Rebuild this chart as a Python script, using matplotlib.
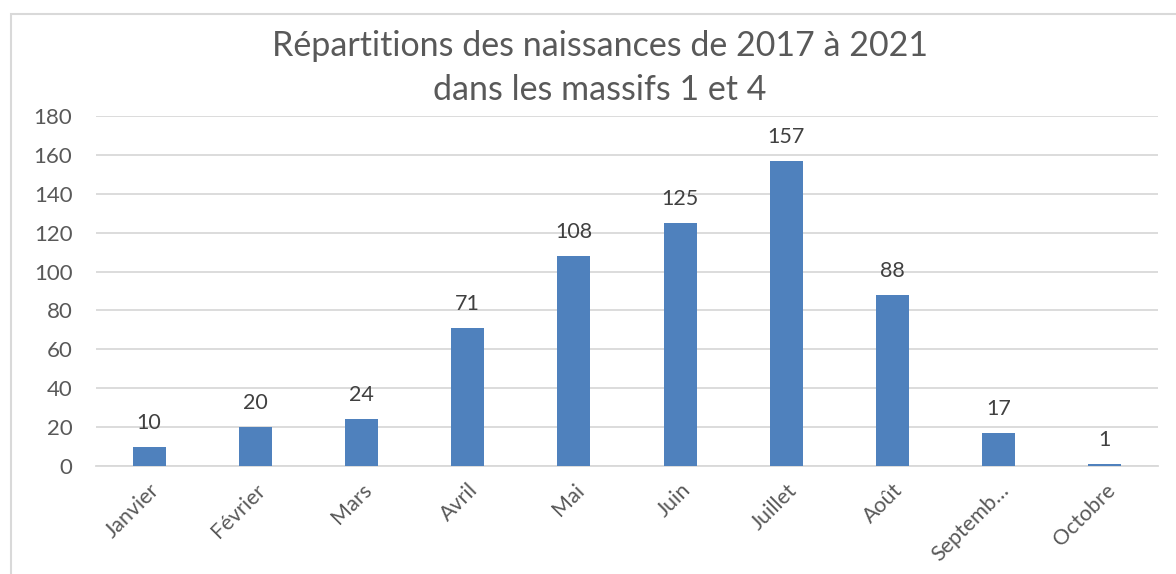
import numpy as np
import matplotlib.pyplot as plt
from matplotlib.patches import Rectangle

months = ['Janvier', 'Février', 'Mars', 'Avril', 'Mai', 'Juin',
          'Juillet', 'Août', 'Septemb…', 'Octobre']
births = [10, 20, 24, 71, 108, 125, 157, 88, 17, 1]
yticks = [0, 20, 40, 60, 80, 100, 120, 140, 160, 180]

plt.rcParams['font.family'] = ['Lato', 'DejaVu Sans']

fig = plt.figure(figsize=(11.76, 5.74), dpi=100)
ax = fig.add_axes([96 / 1176, 108 / 574, 1062 / 1176, 350 / 574])

# chart frame like the spreadsheet export
fig.patches.append(Rectangle((10.5 / 1176, -0.01), 1.2, (574 - 13.5) / 574 + 0.01,
                             transform=fig.transFigure, fill=False,
                             edgecolor='#d9d9d9', lw=1.5, zorder=-1))

x = np.arange(len(months))
ax.bar(x, births, width=0.31, color='#4f81bd', zorder=3)

for xi, v in zip(x, births):
    ax.annotate(str(v), (xi, v), xytext=(0, 10), textcoords='offset points',
                ha='center', va='bottom', fontsize=15.5, color='#404040')

ax.set_xlim(-0.5, len(months) - 0.5)
ax.set_ylim(0, 180)
ax.set_yticks(yticks)
ax.yaxis.grid(True, color='#d9d9d9', lw=1.3, zorder=0)
ax.set_xticks(x)
ax.set_xticklabels(months, rotation=45, ha='right', rotation_mode='anchor',
                   fontsize=15.5, color='#595959')
ax.tick_params(axis='y', labelsize=16, labelcolor='#595959', length=0, pad=17)
ax.tick_params(axis='x', length=0, pad=10)
for s in ['top', 'right', 'left']:
    ax.spines[s].set_visible(False)
ax.spines['bottom'].set_color('#d9d9d9')
ax.spines['bottom'].set_linewidth(1.3)

fig.text(0.51, 0.882, 'Répartitions des naissances de 2017 à 2021\ndans les massifs 1 et 4',
         ha='center', va='center', fontsize=24.5, color='#595959', linespacing=1.45)

fig.savefig('out.png', dpi=100)
